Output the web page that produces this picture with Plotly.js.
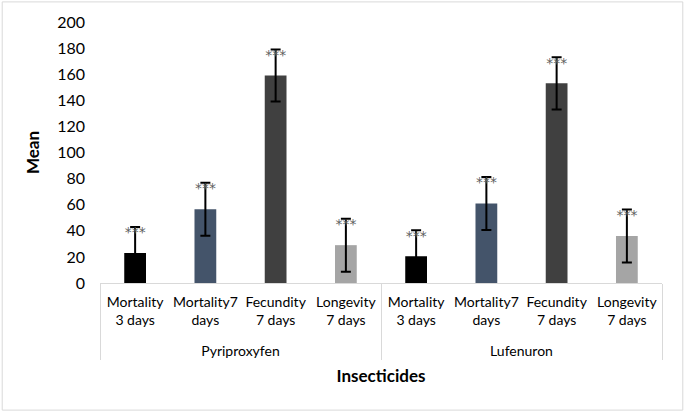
<!DOCTYPE html>
<html><head><meta charset="utf-8">
<script src="https://cdn.plot.ly/plotly-3.0.1.min.js"></script>
<style>html,body{margin:0;padding:0;background:#fff}#chart{width:685px;height:412px}</style>
</head><body><div id="chart"></div>
<script>
const groups = ["Pyriproxyfen","Pyriproxyfen","Pyriproxyfen","Pyriproxyfen","Lufenuron","Lufenuron","Lufenuron","Lufenuron"];
const categories = ["Mortality<br>3 days","Mortality7<br>days","Fecundity<br>7 days","Longevity<br>7 days","Mortality<br>3 days","Mortality7<br>days","Fecundity<br>7 days","Longevity<br>7 days"];
const means = [23, 56.5, 159, 29, 20.5, 61, 153, 36];
const errors = [20, 20.3, 20, 20.3, 20, 20.3, 20, 20.3];
const signif = ["***","***","***","***","***","***","***","***"];
const barColors = ["#000000","#44546A","#404040","#A5A5A5","#000000","#44546A","#404040","#A5A5A5"];
const yTicks = [0,20,40,60,80,100,120,140,160,180,200];

const font = "Lato, 'Open Sans', sans-serif";
const x = [groups.map(g => "<br>" + g), categories];
const tops = means.map((m,i)=>m+errors[i]);

const data = [
  {type:"bar", x:x, y:means, marker:{color:barColors}, width:0.31,
   error_y:{type:"data", array:errors, visible:true, color:"#000000", thickness:2, width:5},
   hoverinfo:"none", showlegend:false},
  {type:"scatter", mode:"text", x:x, y:tops, text:signif, textposition:"bottom center", cliponaxis:false,
   textfont:{family:"'DejaVu Sans', sans-serif", size:14, color:"#5F5F5F"}, hoverinfo:"none", showlegend:false}
];

const layout = {
  width:685, height:412,
  margin:{l:100, r:23, t:22, b:129},
  paper_bgcolor:"#ffffff", plot_bgcolor:"#ffffff",
  font:{family:font, color:"#000000"},
  xaxis:{type:"multicategory", showline:true, linecolor:"#D9D9D9", linewidth:1, tickangle:0,
    ticklabelstandoff:6,
    showgrid:false, zeroline:false, ticks:"", showdividers:true, dividercolor:"#D9D9D9", dividerwidth:1,
    tickfont:{family:font, size:14, color:"#000000"},
    title:{text:"<b>Insecticides</b>", font:{family:font, size:17, color:"#000000"}, standoff:11}},
  yaxis:{range:[0,200], tickvals:yTicks, showgrid:false, zeroline:false, showline:false, ticks:"",
    ticklabelstandoff:14,
    tickfont:{family:font, size:16, color:"#000000"},
    title:{text:"<b>Mean</b>", font:{family:font, size:17, color:"#000000"}, standoff:13}},
  shapes:[{type:"rect", xref:"paper", yref:"paper", x0:-0.174, x1:1.037, y0:-0.487, y1:1.077,
    line:{color:"#D9D9D9", width:1}, fillcolor:"rgba(0,0,0,0)", layer:"below"}]
};
Plotly.newPlot("chart", data, layout, {displayModeBar:false, staticPlot:true});
</script></body></html>
